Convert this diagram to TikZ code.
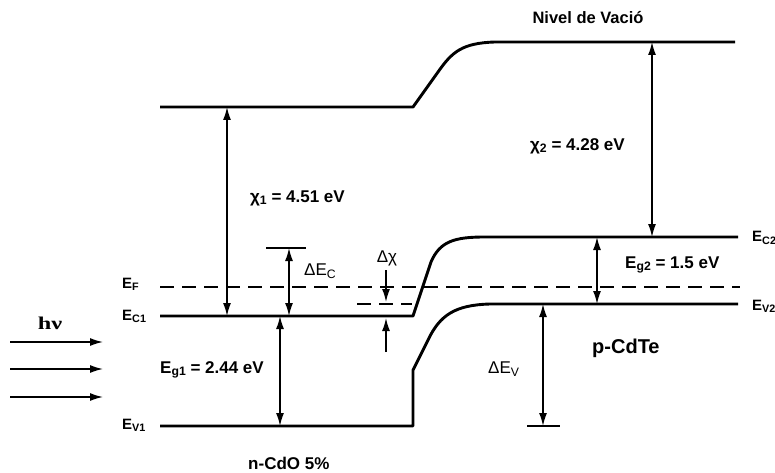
\documentclass[tikz,border=0pt]{standalone}
\usepackage{fontspec}
\setmainfont{Liberation Sans}
\newfontfamily\serifb{Liberation Serif}
\usetikzlibrary{arrows.meta}
\newcommand\sbx[1]{\raisebox{-0.28ex}{\fontsize{0.72\dimexpr\fontdimen6\font\relax}{1em}\selectfont #1}}
\begin{document}
\begin{tikzpicture}[x=1pt,y=-1pt,
  band/.style={line width=2.9pt, line join=round},
  tip/.tip={Latex[length=13pt,width=8pt]},
  dim/.style={line width=1.5pt, tip-tip},
  one/.style={line width=1.5pt, -tip},
  fermi/.style={line width=1.7pt, dash pattern=on 14pt off 8pt},
  lbl/.style={font=\bfseries\fontsize{17}{19}\selectfont, inner sep=0pt, anchor=west},
  lbs/.style={font=\bfseries\fontsize{15}{17}\selectfont, inner sep=0pt, anchor=west},
  lbn/.style={font=\fontsize{17}{19}\selectfont, inner sep=0pt, anchor=west},
]
\useasboundingbox (0,0) rectangle (775,473);

% band lines
\draw[band] (160,107) -- (413,107) -- (438,72) .. controls (452,52) and (462,43) .. (495,42) -- (735,42);
\draw[band] (160,316) -- (413,316) -- (431,262) .. controls (440,241) and (455,237) .. (485,237) -- (738,237);
\draw[band] (160,426) -- (413,426) -- (413,370) -- (428,340) .. controls (440,315) and (455,305) .. (490,304) -- (738,304);
\draw[fermi] (160,287) -- (740,287);
\draw[fermi] (357,304) -- (412,304);

% named points
\coordinate (vac1) at (227,107);  \coordinate (ec1a) at (227,316);
\coordinate (dct) at (289,248);   \coordinate (dcb) at (289,316);
\coordinate (eg1t) at (280,316);  \coordinate (eg1b) at (280,426);
\coordinate (dxa) at (386,270);   \coordinate (dxb) at (386,302);
\coordinate (dxc) at (386,352);   \coordinate (dxd) at (386,318);
\coordinate (vac2) at (652,42);   \coordinate (ec2a) at (652,237);
\coordinate (eg2t) at (597,237);  \coordinate (eg2b) at (597,304);
\coordinate (dvt) at (543,304);   \coordinate (dvb) at (543,426);

\draw[line width=2.7pt] (266,248) -- (306,248);
\draw[line width=2.7pt] (527,426) -- (560,426);

\draw[dim] (vac1) -- (ec1a);
\draw[dim] (dct) -- (dcb);
\draw[dim] (eg1t) -- (eg1b);
\draw[one] (dxa) -- (dxb);
\draw[one] (dxc) -- (dxd);
\draw[dim] (vac2) -- (ec2a);
\draw[dim] (eg2t) -- (eg2b);
\draw[dim] (dvt) -- (dvb);

% photons
\coordinate (p1a) at (10,342); \coordinate (p1b) at (103,342);
\coordinate (p2a) at (10,369); \coordinate (p2b) at (103,369);
\coordinate (p3a) at (10,397); \coordinate (p3b) at (103,397);
\draw[one] (p1a) -- (p1b);
\draw[one] (p2a) -- (p2b);
\draw[one] (p3a) -- (p3b);

% labels
\node[font=\bfseries\fontsize{16.5}{18}\selectfont, inner sep=0pt] (nv) at (588,18) {Nivel de Vació};
\node[lbl] (chi1) at (250,198) {χ\sbx{1} = 4.51 eV};
\node[lbl] (chi2) at (530,146) {χ\sbx{2} = 4.28 eV};
\node[lbs] (ef) at (122,284) {E\sbx{F}};
\node[lbs] (ec1) at (122,316) {E\sbx{C1}};
\node[lbs] (ev1) at (122,425) {E\sbx{V1}};
\node[font=\serifb\bfseries\fontsize{18}{20}\selectfont, inner sep=0pt] (hv) at (50,323) {\scalebox{1.35}[1]{hν}};
\node[lbl] (eg1) at (160,370) {E\sbx{g1} = 2.44 eV};
\node[lbn] (dec) at (304,271) {ΔE\sbx{C}};
\node[lbn, anchor=center] (dchi) at (387,258) {Δχ};
\node[lbl] (eg2) at (625,265) {E\sbx{g2} = 1.5 eV};
\node[lbl, font=\bfseries\fontsize{20}{22}\selectfont] (pcdte) at (592,348) {p-CdTe};
\node[lbn] (dev) at (488,369) {ΔE\sbx{V}};
\node[lbs] (ec2) at (752,238) {E\sbx{C2}};
\node[lbs] (ev2) at (752,306) {E\sbx{V2}};
\node[lbl, font=\bfseries\fontsize{17}{19}\selectfont] (ncdo) at (248,463) {n-CdO 5\%};
\end{tikzpicture}
\end{document}
